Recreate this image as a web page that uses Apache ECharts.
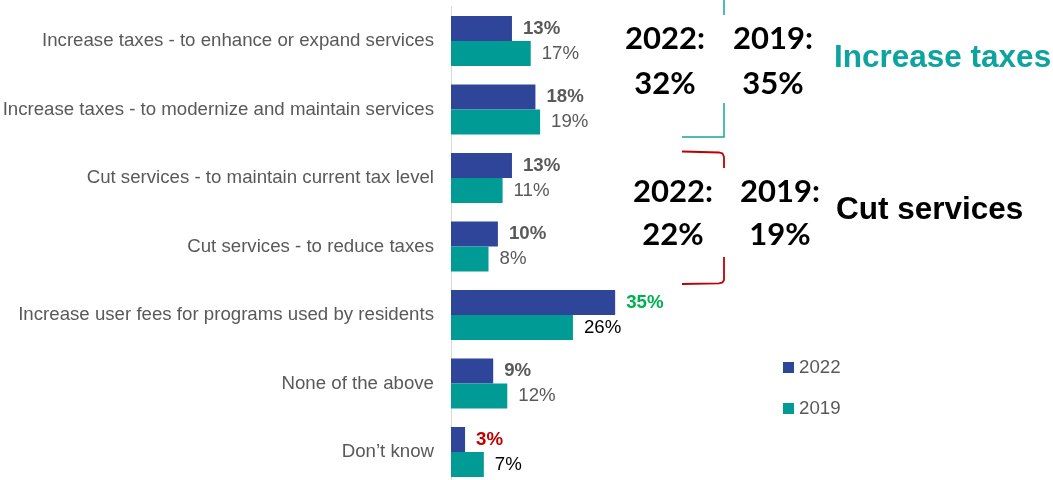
<!DOCTYPE html>
<html>
<head>
<meta charset="utf-8">
<script src="https://cdn.jsdelivr.net/npm/echarts@6/dist/echarts.min.js"></script>
<style>
  html, body { margin: 0; padding: 0; background: #fff; }
  #chart { width: 1053px; height: 480px; }
</style>
</head>
<body>
<div id="chart"></div>
<script>
// Survey options, top to bottom
const categories = [
  'Increase taxes - to enhance or expand services',
  'Increase taxes - to modernize and maintain services',
  'Cut services - to maintain current tax level',
  'Cut services - to reduce taxes',
  'Increase user fees for programs used by residents',
  'None of the above',
  'Don\u2019t know'
];
const seriesNames = ['2022', '2019'];
const values2022 = [13, 18, 13, 10, 35, 9, 3];
const values2019 = [17, 19, 11, 8, 26, 12, 7];

// Group totals shown beside the brackets
const groupTitles = ['Increase taxes', 'Cut services'];
const groupTotals2022 = [32, 22];
const groupTotals2019 = [35, 19];

// Label colours for individual bars
const GREY = '#595959';
const label2022Colors = { 4: '#00B050', 6: '#C00000' };
const label2019Colors = { 4: '#000000', 6: '#000000' };

const BLUE = '#2F4599';
const TEAL = '#009B94';

function items(values, colorMap, bold) {
  return values.map((v, i) => ({
    value: v,
    label: { color: colorMap[i] || GREY, fontWeight: bold ? 'bold' : 'normal' }
  }));
}

const chart = echarts.init(document.getElementById('chart'), null, { renderer: 'canvas' });

const bigFont = 'Lato, "Open Sans", sans-serif';
const arial = '"Liberation Sans", Arial, sans-serif';
const FS = 18.67;

function groupGraphics(idx, cx1, cx2, yTop, yBottom, titleX, titleY, titleColor) {
  const t = (x, y, text) => ({
    type: 'text', x: x, y: y,
    style: { text: text, font: 'bold 31px ' + bigFont, fill: '#000', align: 'center', verticalAlign: 'middle' }
  });
  return [
    t(cx1, yTop, '2022:'),
    t(cx2, yTop, '2019:'),
    t(cx1, yBottom, groupTotals2022[idx] + '%'),
    t(cx2, yBottom, groupTotals2019[idx] + '%'),
    { type: 'text', x: titleX, y: titleY,
      style: { text: groupTitles[idx], font: 'bold 31.5px ' + arial, fill: titleColor, verticalAlign: 'middle' } }
  ];
}

function line(points, color, width) {
  return { type: 'polyline', shape: { points: points }, style: { stroke: color, lineWidth: width, fill: null } };
}

const option = {
  backgroundColor: '#ffffff',
  animation: false,
  grid: { left: 451, top: 6.75, width: 234.5, height: 479.5, containLabel: false, outerBoundsMode: 'none' },
  xAxis: {
    type: 'value', min: 0, max: 50, show: false,
    splitLine: { show: false }
  },
  yAxis: {
    type: 'category', data: categories, inverse: true,
    axisLine: { show: true, lineStyle: { color: '#D9D9D9', width: 1 } },
    axisTick: { show: false },
    axisLabel: { color: GREY, fontFamily: arial, fontSize: FS, margin: 17 }
  },
  legend: {
    orient: 'vertical', left: 778, top: 353,
    itemWidth: 11, itemHeight: 11, itemGap: 22,
    icon: 'rect',
    textStyle: { color: GREY, fontFamily: arial, fontSize: FS },
    data: seriesNames
  },
  series: [
    {
      name: seriesNames[0], type: 'bar', data: items(values2022, label2022Colors, true),
      itemStyle: { color: BLUE }, barGap: '0%', barCategoryGap: '27%',
      label: { show: true, position: 'right', distance: 11, formatter: '{c}%', fontFamily: arial, fontSize: FS }
    },
    {
      name: seriesNames[1], type: 'bar', data: items(values2019, label2019Colors, false),
      itemStyle: { color: TEAL }, barGap: '0%', barCategoryGap: '27%',
      label: { show: true, position: 'right', distance: 11, formatter: '{c}%', fontFamily: arial, fontSize: FS }
    }
  ],
  graphic: [
    // Bracket around the tax-increase rows
    line([[724, 0], [724, 15]], '#14A5A1', 1.5),
    line([[724, 103], [724, 137], [682, 137]], '#14A5A1', 1.5),
    // Bracket around the service-cut rows
    line([[682, 151.5], [719, 152.5], [722.5, 153.5], [724, 157], [724, 168]], '#C00000', 1.8),
    line([[724, 257], [724, 280], [722.5, 282.5], [719, 283.3], [682, 284]], '#C00000', 1.8)
  ]
    .concat(groupGraphics(0, 665, 773, 39, 84, 834, 58, '#0FA3A0'))
    .concat(groupGraphics(1, 673, 780, 192, 235, 836, 210, '#000000'))
};

chart.setOption(option);
</script>
</body>
</html>
